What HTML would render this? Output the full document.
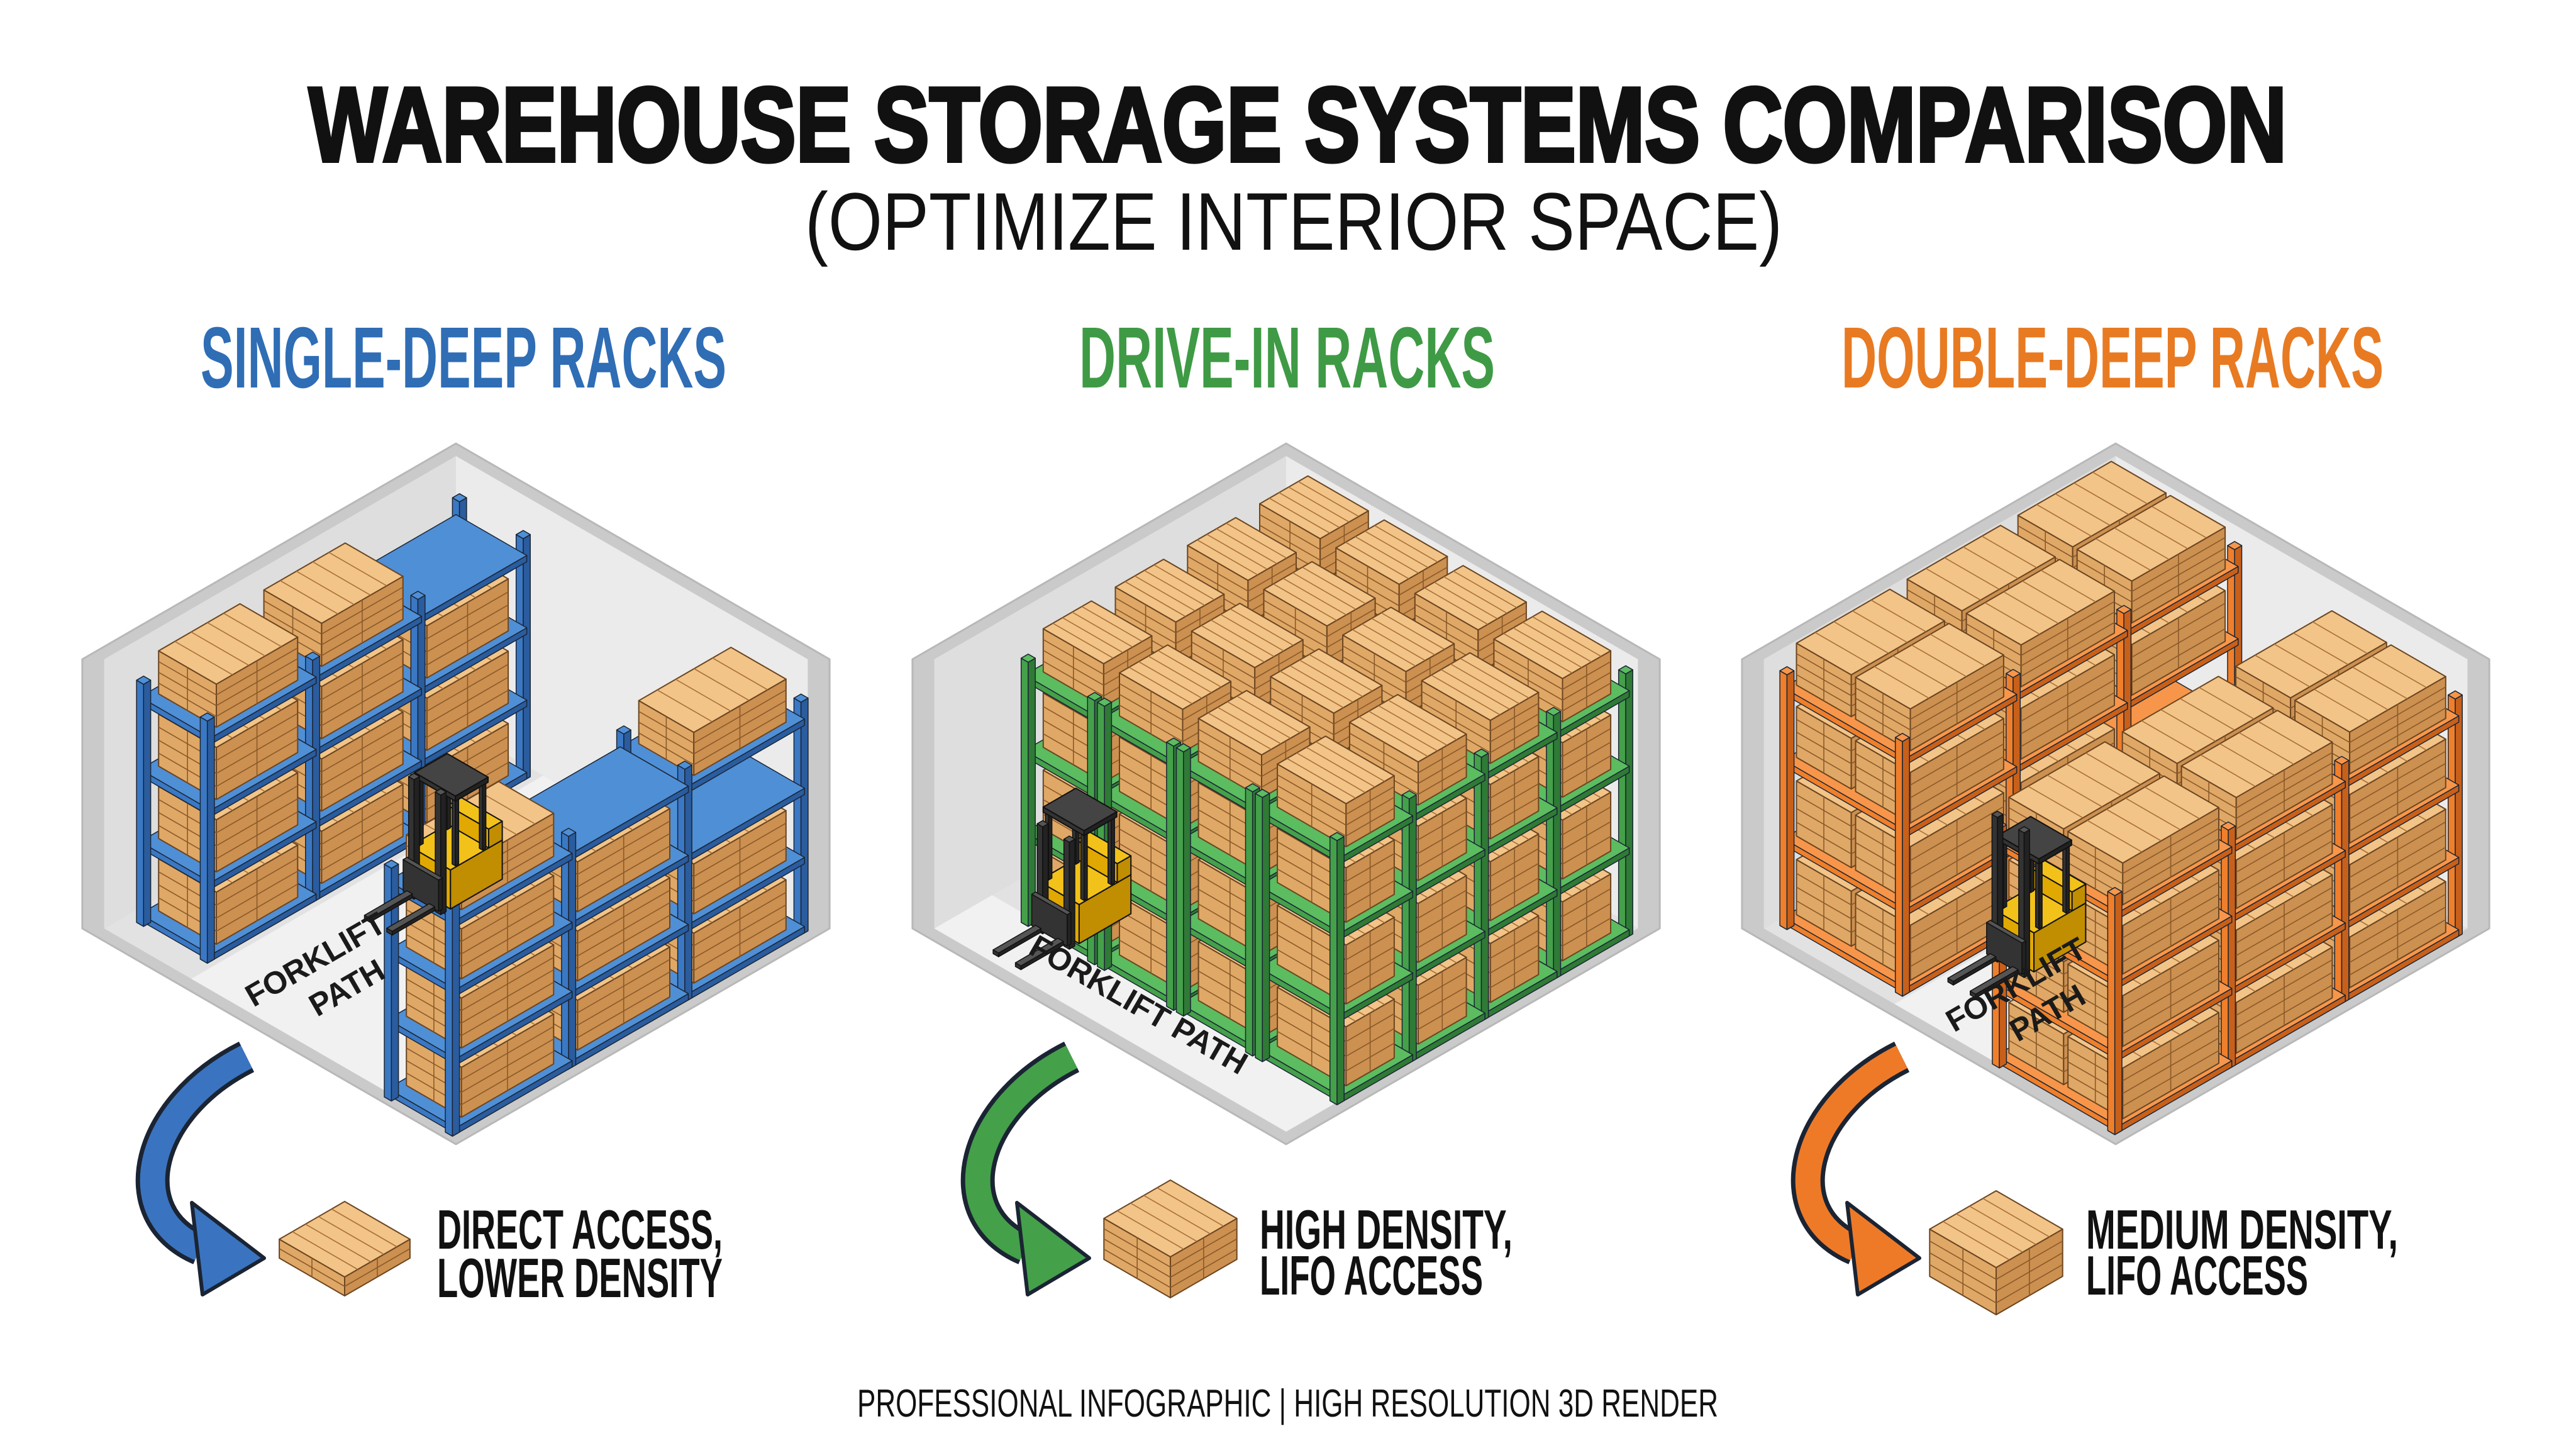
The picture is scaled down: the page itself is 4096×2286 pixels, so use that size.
<!DOCTYPE html>
<html><head><meta charset="utf-8">
<style>
html,body{margin:0;padding:0;background:#fff;}
svg{display:block;}
text{font-family:"Liberation Sans",Arial,sans-serif;}
</style></head>
<body>
<svg id="root" xmlns="http://www.w3.org/2000/svg" width="4096" height="2286" viewBox="0 0 4096 2286">
<rect width="4096" height="2286" fill="#ffffff"/>
<g id="art"></g>
<g id="txt">
<text x="491" y="256" font-size="168" font-weight="bold" fill="#111" stroke="#111" stroke-width="6" textLength="3145" lengthAdjust="spacingAndGlyphs">WAREHOUSE STORAGE SYSTEMS COMPARISON</text>
<text x="1280" y="397" font-size="130" fill="#111" textLength="1554" lengthAdjust="spacingAndGlyphs">(OPTIMIZE INTERIOR SPACE)</text>
<text x="319" y="616" font-size="138" font-weight="bold" fill="#2f6db5" textLength="836" lengthAdjust="spacingAndGlyphs">SINGLE-DEEP RACKS</text>
<text x="1716" y="616" font-size="138" font-weight="bold" fill="#3f9a45" textLength="661" lengthAdjust="spacingAndGlyphs">DRIVE-IN RACKS</text>
<text x="2928" y="616" font-size="138" font-weight="bold" fill="#e87a22" textLength="862" lengthAdjust="spacingAndGlyphs">DOUBLE-DEEP RACKS</text>

<text x="695" y="1985" font-size="88" font-weight="bold" fill="#111" textLength="454" lengthAdjust="spacingAndGlyphs">DIRECT ACCESS,</text>
<text x="695" y="2062" font-size="88" font-weight="bold" fill="#111" textLength="454" lengthAdjust="spacingAndGlyphs">LOWER DENSITY</text>
<text x="2003" y="1985" font-size="88" font-weight="bold" fill="#111" textLength="402" lengthAdjust="spacingAndGlyphs">HIGH DENSITY,</text>
<text x="2003" y="2058" font-size="88" font-weight="bold" fill="#111" textLength="355" lengthAdjust="spacingAndGlyphs">LIFO ACCESS</text>
<text x="3317" y="1985" font-size="88" font-weight="bold" fill="#111" textLength="496" lengthAdjust="spacingAndGlyphs">MEDIUM DENSITY,</text>
<text x="3317" y="2058" font-size="88" font-weight="bold" fill="#111" textLength="353" lengthAdjust="spacingAndGlyphs">LIFO ACCESS</text>

<text x="1363" y="2252" font-size="62" fill="#111" textLength="1369" lengthAdjust="spacingAndGlyphs">PROFESSIONAL INFOGRAPHIC  |  HIGH RESOLUTION 3D RENDER</text>
</g>
<g id="labels"></g>
</svg>
<script>
const NS='http://www.w3.org/2000/svg';
const g=document.getElementById('art');
function el(tag,a,par){const e=document.createElementNS(NS,tag);for(const k in a)e.setAttribute(k,a[k]);(par||g).appendChild(e);return e;}
function poly(pts,fill,stroke,sw){el('polygon',{points:pts.map(p=>p[0].toFixed(1)+','+p[1].toFixed(1)).join(' '),fill:fill,stroke:stroke||'none','stroke-width':sw||0,'stroke-linejoin':'round'});}
function line(a,b,stroke,sw){el('line',{x1:a[0].toFixed(1),y1:a[1].toFixed(1),x2:b[0].toFixed(1),y2:b[1].toFixed(1),stroke:stroke,'stroke-width':sw});}
function mkP(cx,cy){return (x,y,z)=>[cx+0.866*(x-y),cy+0.5*(x+y)-z];}
function box(P,x0,x1,y0,y1,z0,z1,cT,cL,cR,st,sw){
 poly([P(x0,y1,z0),P(x1,y1,z0),P(x1,y1,z1),P(x0,y1,z1)],cL,st,sw);
 poly([P(x1,y0,z0),P(x1,y1,z0),P(x1,y1,z1),P(x1,y0,z1)],cR,st,sw);
 poly([P(x0,y0,z1),P(x1,y0,z1),P(x1,y1,z1),P(x0,y1,z1)],cT,st,sw);
}
function pallet(P,x0,x1,y0,y1,z0,z1,n){
 box(P,x0,x1,y0,y1,z0,z1,'#f2c488','#e0a866','#cc9050','#6b4520',2);
 n=n||3;
 for(let k=1;k<=n;k++){const z=z0+(z1-z0)*k/(n+1);
  line(P(x0,y1,z),P(x1,y1,z),'#8a5a2a',1.6); line(P(x1,y0,z),P(x1,y1,z),'#8a5a2a',1.6);}
 for(let k=1;k<5;k++){const y=y0+(y1-y0)*k/5; line(P(x0,y,z1),P(x1,y,z1),'#a87038',1.6);}
 const xm=(x0+x1)/2, ym=(y0+y1)/2;
 line(P(xm,y1,z0),P(xm,y1,z1),'#8a5a2a',1.6); line(P(x1,ym,z0),P(x1,ym,z1),'#8a5a2a',1.6);
}
const L=686,H=428,T=20,CY=1133;
function room(P){
 poly([P(0,0,H),P(L,0,H),P(L,0,0),P(L,L,0),P(0,L,0),P(0,L,H)],'#cacaca','#b8b8b8',3);
 poly([P(T,T,0),P(T,L-T,0),P(T,L-T,H),P(T,T,H)],'#dedede');
 poly([P(T,T,0),P(L-T,T,0),P(L-T,T,H),P(T,T,H)],'#ebebeb');
 poly([P(T,T,0),P(L-T,T,0),P(L-T,L-T,0),P(T,L-T,0)],'#e2e2e2');
}
function rack(P,x0,x1,y0,y1,nb,zs,fill,col,deep,hf){
 hf=hf||0.7;
 const c=col[0],cd=col[1],ct=col[2]; const w=(y1-y0)/nb; const u=13; const top=zs[zs.length-1]+40;
 const upr=(y)=>{box(P,x0,x0+u,y-u/2,y+u/2,0,top,ct,c,cd,'#1a2535',1.5);box(P,x1-u,x1,y-u/2,y+u/2,0,top,ct,c,cd,'#1a2535',1.5);};
 for(let i=0;i<nb;i++){const ya=y0+i*w,yb=ya+w; upr(ya);
  for(let j=0;j<zs.length;j++){const z=zs[j];
   box(P,x0,x1,ya,yb,z,z+10,ct,c,cd,'#1a2535',1.5);
   const h=(j<zs.length-1?(zs[j+1]-z):95)*hf;
   if(fill(i,j)){
    if(deep){const xm=(x0+x1)/2; pallet(P,x0+8,xm-4,ya+16,yb-16,z+10,z+10+h); pallet(P,xm+4,x1-8,ya+16,yb-16,z+10,z+10+h);}
    else pallet(P,x0+12,x1-12,ya+22,yb-22,z+10,z+10+h);
   }
  }}
 upr(y1);
}
function forklift(P,x,y,reach){
 const Y='#f2c21a',Yl='#e0a800',Yd='#c08e00',K='#333',Kl='#222',Kt='#555',s='#111';
 box(P,x,x+75,y,y+95,8,70,Y,Yl,Yd,s,2);
 box(P,x,x+75,y,y+25,70,100,Y,Yl,Yd,s,2);
 box(P,x+2,x+8,y+28,y+34,70,175,Kt,K,Kl,s,1.5);
 box(P,x+67,x+73,y+28,y+34,70,175,Kt,K,Kl,s,1.5);
 box(P,x+2,x+8,y+78,y+84,70,175,Kt,K,Kl,s,1.5);
 box(P,x+67,x+73,y+78,y+84,70,175,Kt,K,Kl,s,1.5);
 box(P,x,x+75,y+26,y+86,175,183,'#444',K,Kl,s,2);
 box(P,x+8,x+18,y+95,y+105,0,reach,Kt,K,Kl,s,1.5);
 box(P,x+57,x+67,y+95,y+105,0,reach,Kt,K,Kl,s,1.5);
 box(P,x+5,x+70,y+105,y+112,10,60,Kt,K,Kl,s,1.5);
 box(P,x+12,x+22,y+112,y+190,8,14,Kt,K,Kl,s,1.5);
 box(P,x+53,x+63,y+112,y+190,8,14,Kt,K,Kl,s,1.5);
}
const BLUE=['#3a78c4','#2a5c9e','#4f8fd6'],GREEN=['#45a04a','#2f7a35','#5cbc60'],ORANGE=['#ef7f2a','#c8601a','#f7964a'];

// Panel 1
(function(){const P=mkP(725,CY);room(P);
 poly([P(180,T,0),P(540,T,0),P(540,L-T,0),P(180,L-T,0)],'#f1f1f1');
 rack(P,40,170,40,620,3,[0,115,230,345],(i,j)=>!(i==0&&j==3),BLUE,false,0.72);
 rack(P,545,670,30,670,3,[0,110,220,330],(i,j)=>!(i==1&&j==3)&&!(i==0&&j==2),BLUE,false,0.72);
 forklift(P,240,230,190);
})();
// Panel 2
(function(){const P=mkP(2045,CY);room(P);
 poly([P(T,560,0),P(L-T,560,0),P(L-T,L-T,0),P(T,L-T,0)],'#f1f1f1');
 const cols=[[90,225],[230,370],[375,515],[520,670]];
 cols.forEach(c=>rack(P,c[0],c[1],40,570,4,[0,130,260,380],()=>true,GREEN,false,0.72));
 forklift(P,110,470,170);
})();
// Panel 3
(function(){const P=mkP(3364,CY);room(P);
 poly([P(260,T,0),P(440,T,0),P(440,L-T,0),P(260,L-T,0)],'#f1f1f1');
 rack(P,30,255,30,640,3,[0,125,250,365],(i,j)=>!(i==0&&j==1),ORANGE,true,0.7);
 rack(P,445,670,40,665,3,[0,115,230,340],()=>true,ORANGE,true,0.7);
 forklift(P,270,400,230);
})();

// arrows
function arrow(dx,col){
 const d=`M${392+dx},1680 C${232+dx},1760 ${190+dx},1930 ${318+dx},1985`;
 el('path',{d:d,fill:'none',stroke:'#1b2433','stroke-width':54,'stroke-linecap':'butt'});
 el('path',{d:d,fill:'none',stroke:col,'stroke-width':40,'stroke-linecap':'butt'});
 el('polygon',{points:`${305+dx},1912 ${420+dx},2000 ${322+dx},2058`,fill:col,stroke:'#1b2433','stroke-width':6,'stroke-linejoin':'round'});
}
arrow(0,'#3a74c0');arrow(1312,'#45a04a');arrow(2632,'#ee7a28');
(function(){let P=mkP(548,2000);pallet(P,-60,60,-60,60,0,30,1);
 P=mkP(1861,2002);pallet(P,-61,61,-61,61,0,65,3);
 P=mkP(3174,2029);pallet(P,-61,61,-61,61,0,75,3);})();

const lab=document.getElementById('labels');
function t(x,y,rot,str){const e=el('text',{x:x,y:y,'font-size':50,'font-weight':'bold',fill:'#1a1a1a','text-anchor':'middle',transform:`rotate(${rot} ${x} ${y})`},lab);e.textContent=str;}
t(510,1540,-30,'FORKLIFT');t(560,1585,-30,'PATH');
t(3214,1580,-30,'FORKLIFT');t(3264,1625,-30,'PATH');
t(1802,1612,30,'FORKLIFT PATH');
</script>
</body></html>
